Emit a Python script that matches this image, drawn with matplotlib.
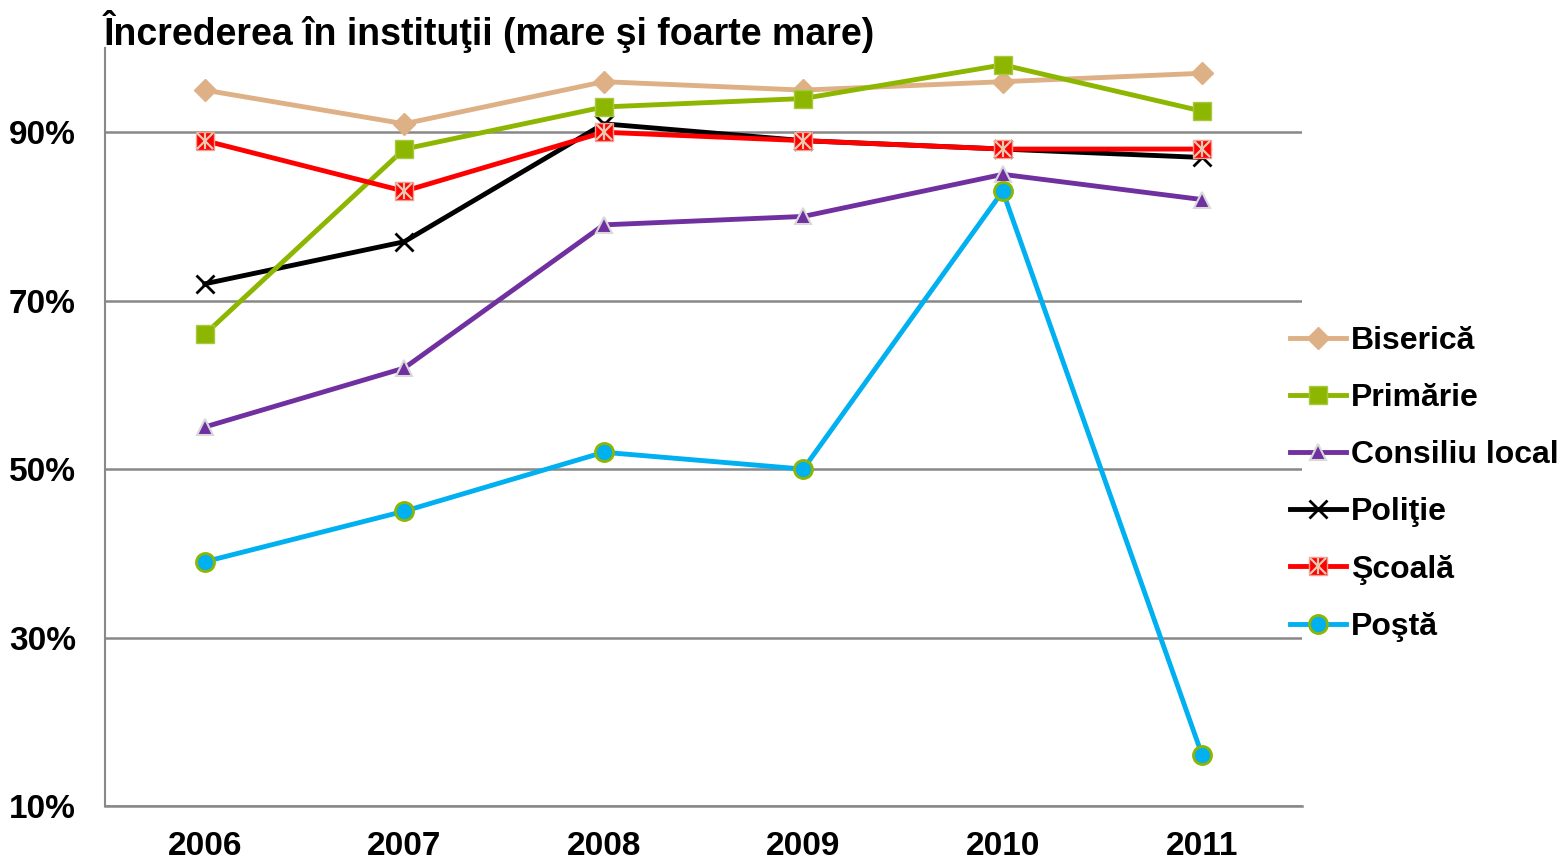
import matplotlib
matplotlib.use("Agg")
import matplotlib.pyplot as plt
from matplotlib.legend_handler import HandlerTuple

plt.rcParams["font.family"] = ["Liberation Sans", "DejaVu Sans"]
plt.rcParams["font.weight"] = "bold"

# ----------------------------- data ----------------------------------------
years = ["2006", "2007", "2008", "2009", "2010", "2011"]
biserica = [95, 91, 96, 95, 96, 97]
primarie = [66, 88, 93, 94, 98, 92.5]
consiliu = [55, 62, 79, 80, 85, 82]
politie = [72, 77, 91, 89, 88, 87]
scoala = [89, 83, 90, 89, 88, 88]
posta = [39, 45, 52, 50, 83, 16]
yticks = [10, 30, 50, 70, 90]

# ----------------------------- plot ----------------------------------------
fig = plt.figure(figsize=(15.65, 8.59), dpi=100)
ax = fig.add_axes([105 / 1565, 1 - 806 / 859, (1302 - 105) / 1565, (806 - 48) / 859])
x = range(len(years))
lw = 3.5

h_bis, = ax.plot(x, biserica, color="#deb085", lw=lw, marker="D", ms=11,
                 mfc="#deb085", mec="#deb085", zorder=3)
h_pri, = ax.plot(x, primarie, color="#8db600", lw=lw, marker="s", ms=13,
                 mfc="#8db600", mec="#a8c840", zorder=4)
h_con, = ax.plot(x, consiliu, color="#7030a0", lw=lw, marker="^", ms=12,
                 mfc="#7030a0", mec="#d9d9d9", mew=1.5, zorder=3)
h_pol, = ax.plot(x, politie, color="black", lw=lw, marker="x", ms=13,
                 mew=2, zorder=3)
h_sco, = ax.plot(x, scoala, color="#ff0000", lw=lw, marker="s", ms=13,
                 mfc="#ff0000", mec="#f0a090", zorder=4)
h_sco2, = ax.plot(x, scoala, ls="none", marker="x", ms=11, mew=1.6,
                  color="#e8c8b0", zorder=5)
h_sco3, = ax.plot(x, scoala, ls="none", marker="|", ms=12, mew=1.6,
                  color="#e8c8b0", zorder=5)
h_pos, = ax.plot(x, posta, color="#00b0f0", lw=lw, marker="o", ms=13,
                 mfc="#00b0f0", mec="#8db600", mew=2, zorder=3)

ax.set_xlim(-0.5, len(years) - 0.5)
ax.set_ylim(10, 100)
ax.set_yticks(yticks)
ax.set_yticklabels([f"{v}%" for v in yticks])
ax.set_xticks(list(x))
ax.set_xticklabels(years)
ax.grid(axis="y", color="#888888", lw=1.8)
ax.set_axisbelow(True)
for s in ["top", "right"]:
    ax.spines[s].set_visible(False)
ax.spines["left"].set_color("#888888")
ax.spines["bottom"].set_color("#888888")
ax.spines["left"].set_linewidth(1.5)
ax.spines["bottom"].set_linewidth(1.8)
ax.tick_params(axis="both", length=0, labelsize=24)
ax.tick_params(axis="y", pad=21)
ax.tick_params(axis="x", pad=18)
for lab in ax.get_xticklabels() + ax.get_yticklabels():
    lab.set_fontweight("bold")

fig.text(103 / 1565, 1 - 10 / 859, "Încrederea în instituţii (mare şi foarte mare)",
         ha="left", va="top", fontsize=27, fontweight="bold")

handles = [h_bis, h_pri, h_con, h_pol, (h_sco, h_sco2, h_sco3), h_pos]
labels = ["Biserică", "Primărie", "Consiliu local", "Poliţie", "Şcoală", "Poştă"]
fig.legend(handles, labels, loc="upper left",
           bbox_to_anchor=(1290 / 1565, 1 - 326 / 859), frameon=False,
           prop={"size": 23, "weight": "bold"}, handlelength=1.75,
           handletextpad=0.15, labelspacing=0.85, borderaxespad=0,
           borderpad=0,
           handler_map={tuple: HandlerTuple(ndivide=1, pad=0)})

fig.savefig("out.png", dpi=100)
